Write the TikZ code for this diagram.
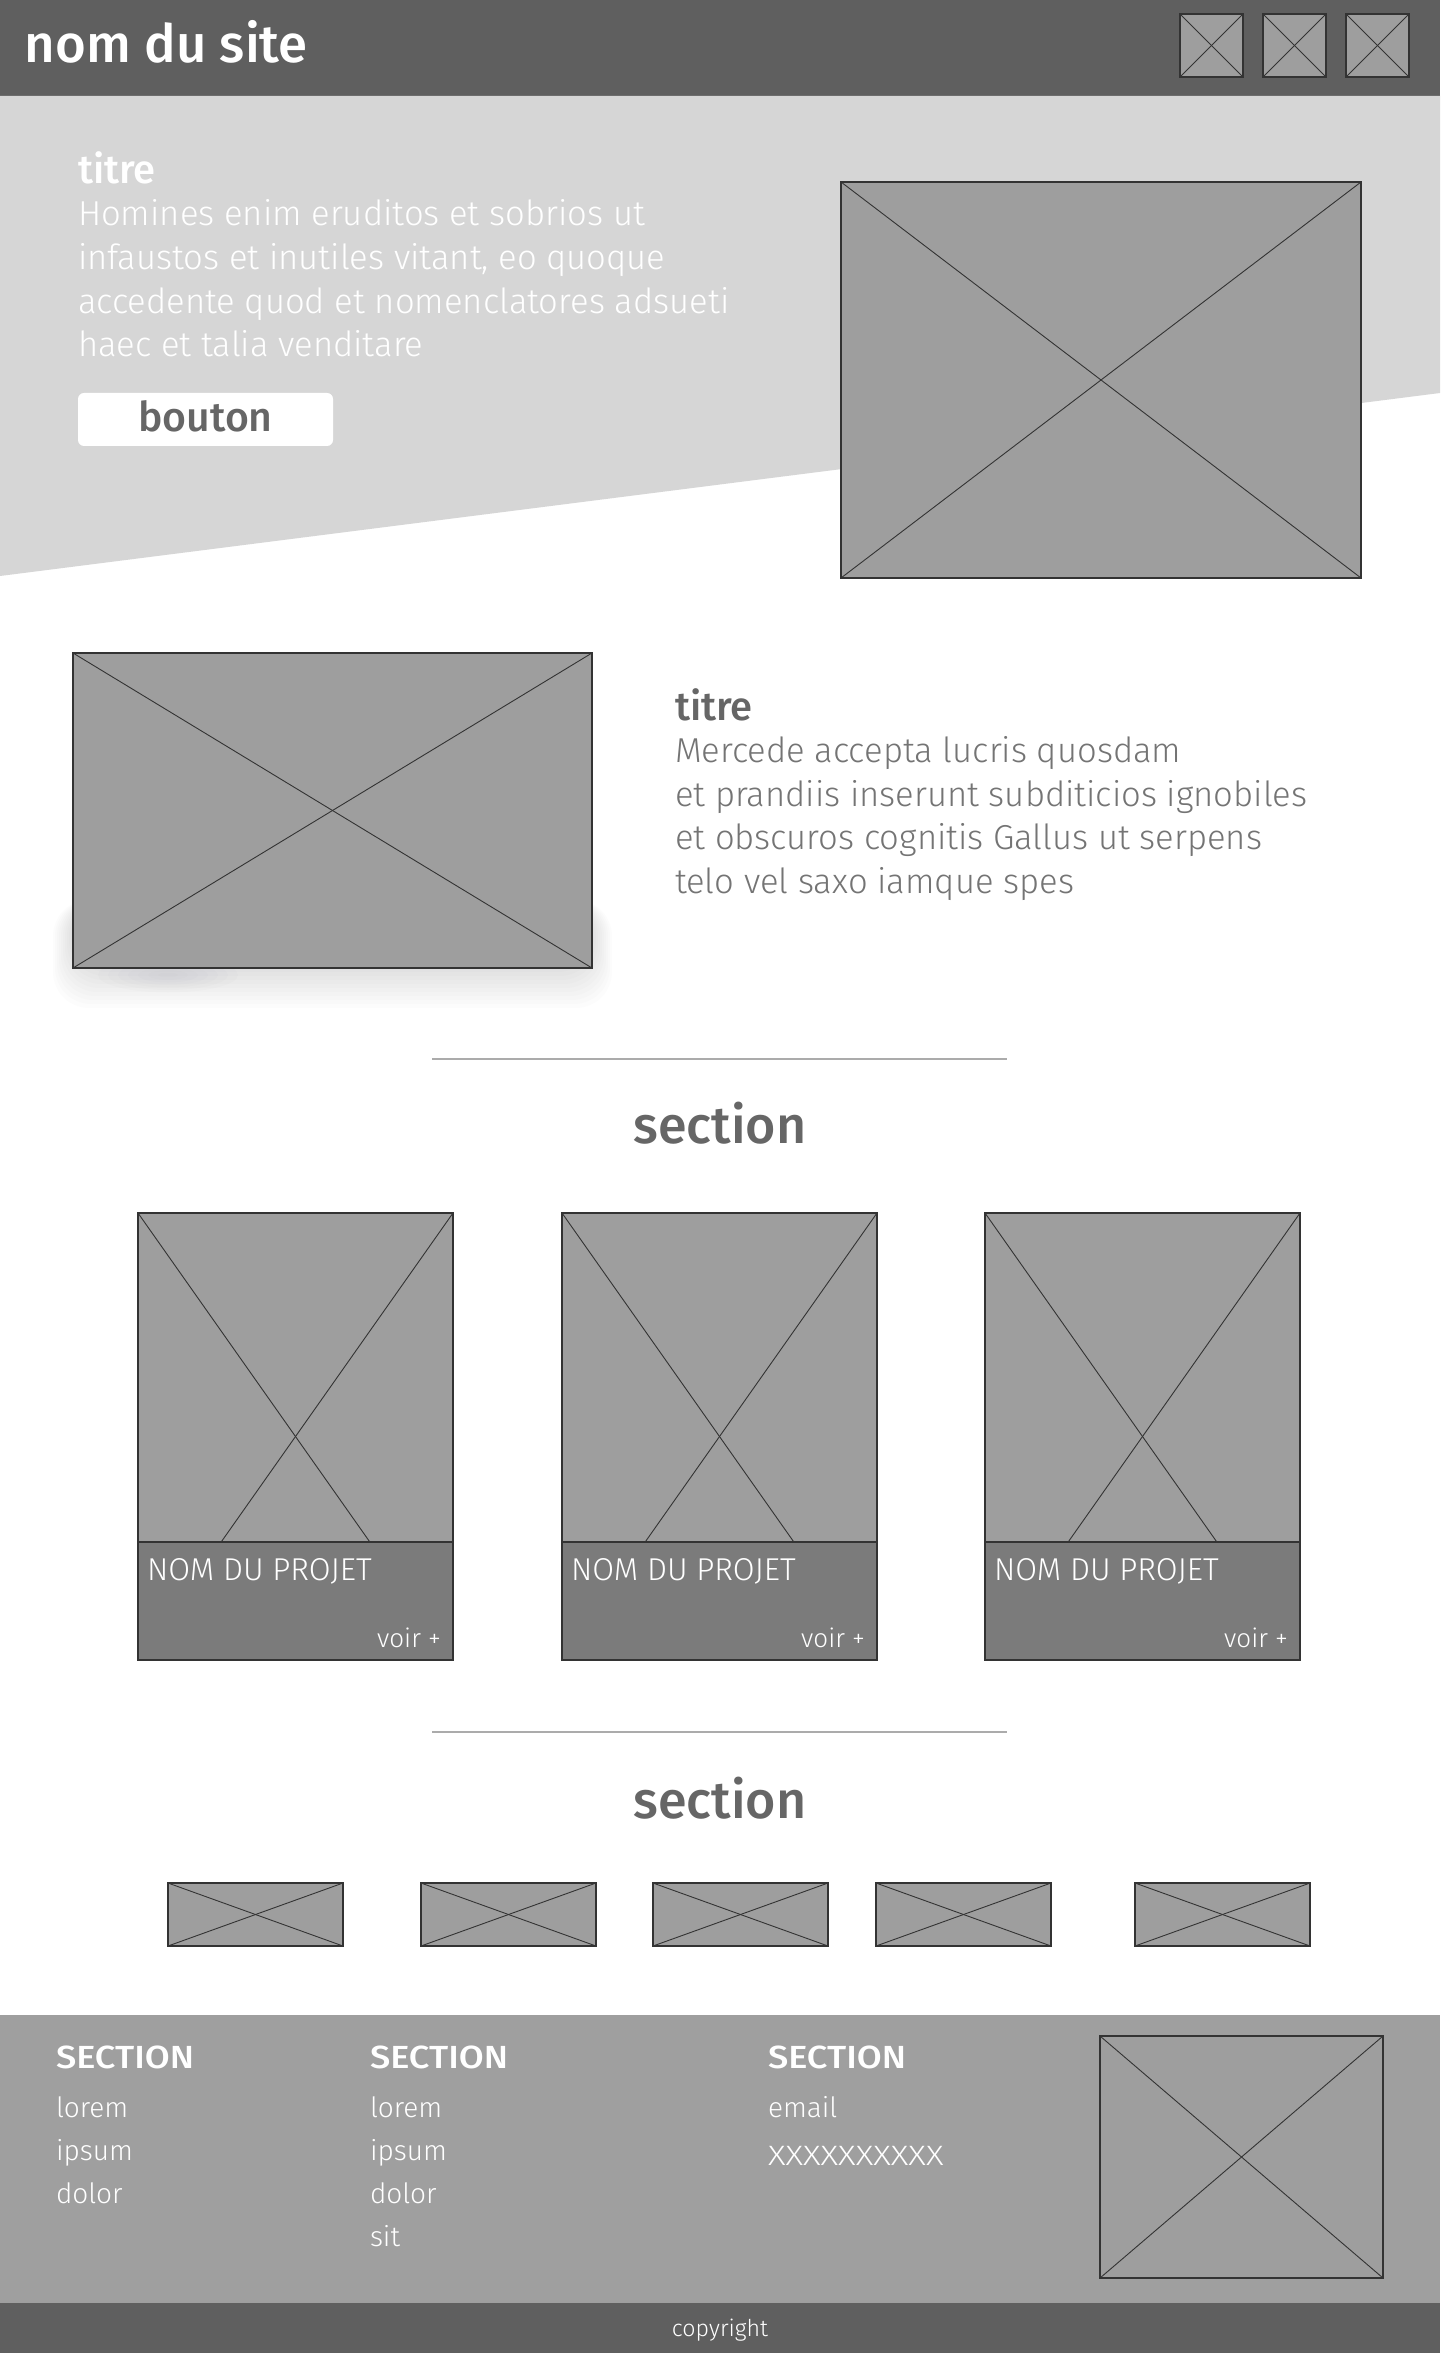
\documentclass[tikz,border=0pt]{standalone}
\usepackage{fontspec}
\usepackage{graphicx}
\usetikzlibrary{fit,calc}
\setmainfont{Fira Sans}
\IfFontExistsTF{Fira Sans Light}{\newfontfamily\lightf{Fira Sans Light}}{\newfontfamily\lightf{Fira Sans}}
\IfFontExistsTF{Fira Sans Medium}{\newfontfamily\medf{Fira Sans Medium}}{\newfontfamily\medf{Fira Sans}}
\IfFontExistsTF{Fira Sans Medium}{\newfontfamily\medwide[FakeStretch=1.13]{Fira Sans Medium}}{\newfontfamily\medwide[FakeStretch=1.13]{Fira Sans}}
\newcommand\fsz[1]{\fontsize{#1}{#1}\selectfont}
\definecolor{hdr}{HTML}{5F5F5F}
\definecolor{herobg}{HTML}{D6D6D6}
\definecolor{imgfill}{HTML}{9E9E9E}
\definecolor{cardbot}{HTML}{7B7B7B}
\definecolor{txtdark}{HTML}{666666}
\definecolor{txtmid}{HTML}{747474}
\definecolor{foot}{HTML}{9F9F9F}
\definecolor{divline}{HTML}{ABABAB}
\definecolor{edge}{HTML}{333333}
\definecolor{shadowc}{HTML}{30303A}
\tikzset{
  imgbox/.style={draw=edge, line width=0.7pt, fill=imgfill, inner sep=0pt, outer sep=0pt},
  cross/.style={draw=edge, line width=0.45pt},
  band/.style={inner sep=0pt, outer sep=0pt},
  tx/.style={anchor=base west, inner sep=0pt, outer sep=0pt},
  txc/.style={anchor=base, inner sep=0pt, outer sep=0pt},
  txr/.style={anchor=base east, inner sep=0pt, outer sep=0pt},
  herobody/.style={tx, text=white, font=\lightf\fsz{17.3}},
  bodytwo/.style={tx, text=txtmid, font=\lightf\fsz{17.3}},
  sechead/.style={txc, text=txtdark, font=\medf\fsz{26}},
  cardname/.style={tx, text=white, font=\lightf\fsz{15.8}},
  cardmore/.style={txr, text=white, font=\lightf\fsz{13}},
  foothead/.style={tx, text=white, font=\medwide\fsz{16}},
  footitem/.style={tx, text=white, font=\lightf\fsz{14}},
  divider/.style={draw=divline, line width=0.8pt},
  softshade/.style={fill=shadowc, opacity=0.011},
}
\newcommand\ximg[5]{%
  \node[imgbox, fit={(#2,#3)(#4,#5)}] (#1) {};
  \draw[cross] (#1.north west) -- (#1.south east);
  \draw[cross] (#1.north east) -- (#1.south west);}
\newcommand\projcard[3]{%
  \ximg{#1}{#2}{1213}{#3}{1660}
  \node[imgbox, fill=cardbot, fit={(#2,1542)(#3,1660)}] (#1bot) {};
  \node[cardname] (#1name) at ($(#1bot.north west)+(9,38)$) {NOM DU PROJET};
  \node[cardmore] (#1more) at ($(#1bot.north east)+(-12,105)$) {voir +};}
\begin{document}
\begin{tikzpicture}[x=0.5pt, y=-0.5pt]
\useasboundingbox (0,0) rectangle (1440,2353);
\fill[white] (0,0) rectangle (1440,2353);
% header
\node[band, fill=hdr, fit={(0,0)(1440,96)}] (header) {};
\node[tx, text=white, font=\medf\fsz{26.4}] (sitename) at (25,63) {nom du site};
\ximg{ic1}{1180}{14}{1243}{77}
\ximg{ic2}{1263}{14}{1326}{77}
\ximg{ic3}{1346}{14}{1409}{77}
% hero
\fill[herobg] (0,96) -- (1440,96) -- (1440,393) -- (0,576) -- cycle;
\node[tx, text=white, font=\medf\fsz{20}] (herotitle) at (78,184) {titre};
\node[herobody] (hb1) at (78,226) {Homines enim eruditos et sobrios ut};
\node[herobody] (hb2) at (78,270) {infaustos et inutiles vitant, eo quoque};
\node[herobody] (hb3) at (78,313.5) {accedente quod et nomenclatores adsueti};
\node[herobody] (hb4) at (78,357) {haec et talia venditare};
\node[band, fill=white, rounded corners=3pt, fit={(78,393)(333,446)}] (btn) {};
\node[txc, text=txtdark, font=\medf\fsz{20.5}] (btnlabel) at (205.5,432) {bouton};
\ximg{heroimg}{841}{182}{1361}{578}
% second block with soft shadow below
\foreach \i in {1,...,10} {
  \fill[softshade, rounded corners=18] (73-2*\i,900) rectangle (592+2*\i,968+4*\i);
}
\foreach \i in {1,...,7} {
  \fill[softshade] (168,975) ellipse [x radius=10*\i, y radius=2.5*\i];
}
\ximg{img2}{73}{653}{592}{968}
\node[tx, text=txtdark, font=\medf\fsz{20}] (title2) at (675,720.5) {titre};
\node[bodytwo] (b1) at (675,762.5) {Mercede accepta lucris quosdam};
\node[bodytwo] (b2) at (675,806) {et prandiis inserunt subditicios ignobiles};
\node[bodytwo] (b3) at (675,849.5) {et obscuros cognitis Gallus ut serpens};
\node[bodytwo] (b4) at (675,893) {telo vel saxo iamque spes};
% section 1
\coordinate (d1a) at (432,1059);
\coordinate (d1b) at (1007,1059);
\draw[divider] (d1a) -- (d1b);
\node[sechead] (sec1) at (720,1143) {section};
\projcard{pa}{138}{453}
\projcard{pb}{562}{877}
\projcard{pc}{985}{1300}
% section 2
\coordinate (d2a) at (432,1732);
\coordinate (d2b) at (1007,1732);
\draw[divider] (d2a) -- (d2b);
\node[sechead] (sec2) at (720,1818) {section};
\ximg{s1}{168}{1883}{343}{1946}
\ximg{s2}{421}{1883}{596}{1946}
\ximg{s3}{653}{1883}{828}{1946}
\ximg{s4}{876}{1883}{1051}{1946}
\ximg{s5}{1135}{1883}{1310}{1946}
% footer
\node[band, fill=foot, fit={(0,2015)(1440,2303)}] (footer) {};
\node[band, fill=hdr, fit={(0,2303)(1440,2353)}] (copybar) {};
\node[foothead] (fh1) at (56,2068) {SECTION};
\node[footitem] (f11) at (56,2117) {lorem};
\node[footitem] (f12) at (56,2160) {ipsum};
\node[footitem] (f13) at (56,2203) {dolor};
\node[foothead] (fh2) at (370,2068) {SECTION};
\node[footitem] (f21) at (370,2117) {lorem};
\node[footitem] (f22) at (370,2160) {ipsum};
\node[footitem] (f23) at (370,2203) {dolor};
\node[footitem] (f24) at (370,2246) {sit};
\node[foothead] (fh3) at (768,2068) {SECTION};
\node[footitem] (f31) at (768,2117) {email};
\node[footitem] (f32) at (768,2165) {\scalebox{1.22}[1]{XXXXXXXXXX}};
\ximg{footimg}{1100}{2036}{1383}{2278}
\node[txc, text=white, font=\lightf\fsz{11.6}] (copy) at (720,2336) {copyright};
\end{tikzpicture}
\end{document}
